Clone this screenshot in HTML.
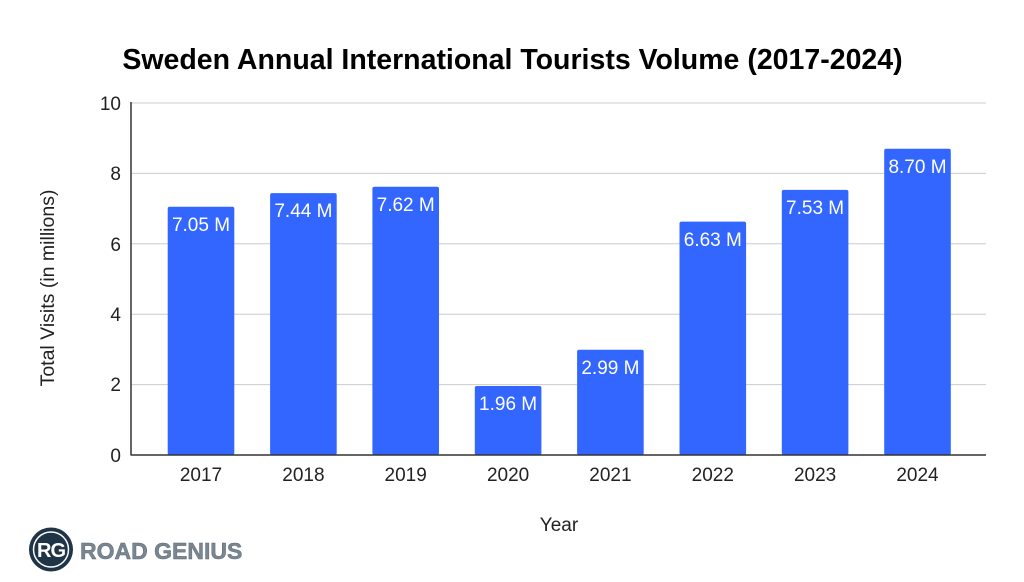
<!DOCTYPE html>
<html><head><meta charset="utf-8"><style>
html,body{margin:0;padding:0;background:#fff;}
svg{display:block;}
text{font-family:"Liberation Sans",Arial,sans-serif;}
</style></head><body>
<svg width="1024" height="582" viewBox="0 0 1024 582" xmlns="http://www.w3.org/2000/svg">
<rect width="1024" height="582" fill="#fff"/>
<text x="512.5" y="69" text-anchor="middle" font-size="28.5" font-weight="bold" fill="#000">Sweden Annual International Tourists Volume (2017-2024)</text>
<!-- gridlines -->
<g stroke="#cccccc" stroke-width="1">
<line x1="131" y1="103" x2="986" y2="103"/>
<line x1="131" y1="173.4" x2="986" y2="173.4"/>
<line x1="131" y1="243.8" x2="986" y2="243.8"/>
<line x1="131" y1="314.2" x2="986" y2="314.2"/>
<line x1="131" y1="384.6" x2="986" y2="384.6"/>
</g>
<!-- y tick labels -->
<g font-size="19" fill="#222" text-anchor="end">
<text x="121" y="110">10</text>
<text x="121" y="180">8</text>
<text x="121" y="251">6</text>
<text x="121" y="321">4</text>
<text x="121" y="391">2</text>
<text x="121" y="462">0</text>
</g>
<text transform="translate(54,288) rotate(-90)" text-anchor="middle" font-size="19.5" fill="#222">Total Visits (in millions)</text>
<!-- bars -->
<g fill="#3366ff">
<rect x="167.7" y="206.8" width="66.6" height="248.2" rx="2"/>
<rect x="270.1" y="193.1" width="66.6" height="261.9" rx="2"/>
<rect x="372.4" y="186.8" width="66.6" height="268.2" rx="2"/>
<rect x="474.8" y="386.0" width="66.6" height="69.0" rx="2"/>
<rect x="577.1" y="349.8" width="66.6" height="105.2" rx="2"/>
<rect x="679.5" y="221.6" width="66.6" height="233.4" rx="2"/>
<rect x="781.8" y="189.9" width="66.6" height="265.1" rx="2"/>
<rect x="884.2" y="148.8" width="66.6" height="306.2" rx="2"/>
</g>
<g font-size="19" fill="#fff" text-anchor="middle">
<text x="201" y="231">7.05 M</text>
<text x="303.4" y="217">7.44 M</text>
<text x="405.7" y="211">7.62 M</text>
<text x="508.1" y="410">1.96 M</text>
<text x="610.4" y="374">2.99 M</text>
<text x="712.8" y="246">6.63 M</text>
<text x="815.1" y="214">7.53 M</text>
<text x="917.5" y="173">8.70 M</text>
</g>
<!-- axes -->
<line x1="131" y1="102" x2="131" y2="455.5" stroke="#333" stroke-width="1.5"/>
<line x1="131" y1="455" x2="986" y2="455" stroke="#333" stroke-width="1.5"/>
<!-- x tick labels -->
<g font-size="19" fill="#222" text-anchor="middle">
<text x="201" y="481">2017</text>
<text x="303.4" y="481">2018</text>
<text x="405.7" y="481">2019</text>
<text x="508.1" y="481">2020</text>
<text x="610.4" y="481">2021</text>
<text x="712.8" y="481">2022</text>
<text x="815.1" y="481">2023</text>
<text x="917.5" y="481">2024</text>
</g>
<text x="559" y="531" text-anchor="middle" font-size="19" fill="#222">Year</text>
<!-- logo -->
<circle cx="51" cy="549.5" r="22" fill="#1f3447"/>
<circle cx="51" cy="549.5" r="17.5" fill="none" stroke="#fff" stroke-width="1.5"/>
<text x="51" y="557" text-anchor="middle" font-size="20" font-weight="bold" fill="#fff" letter-spacing="-1">RG</text>
<text x="80" y="559" font-size="23" font-weight="bold" fill="#7a8691" stroke="#5d6a75" stroke-width="0.5">ROAD GENIUS</text>
</svg>
</body></html>
